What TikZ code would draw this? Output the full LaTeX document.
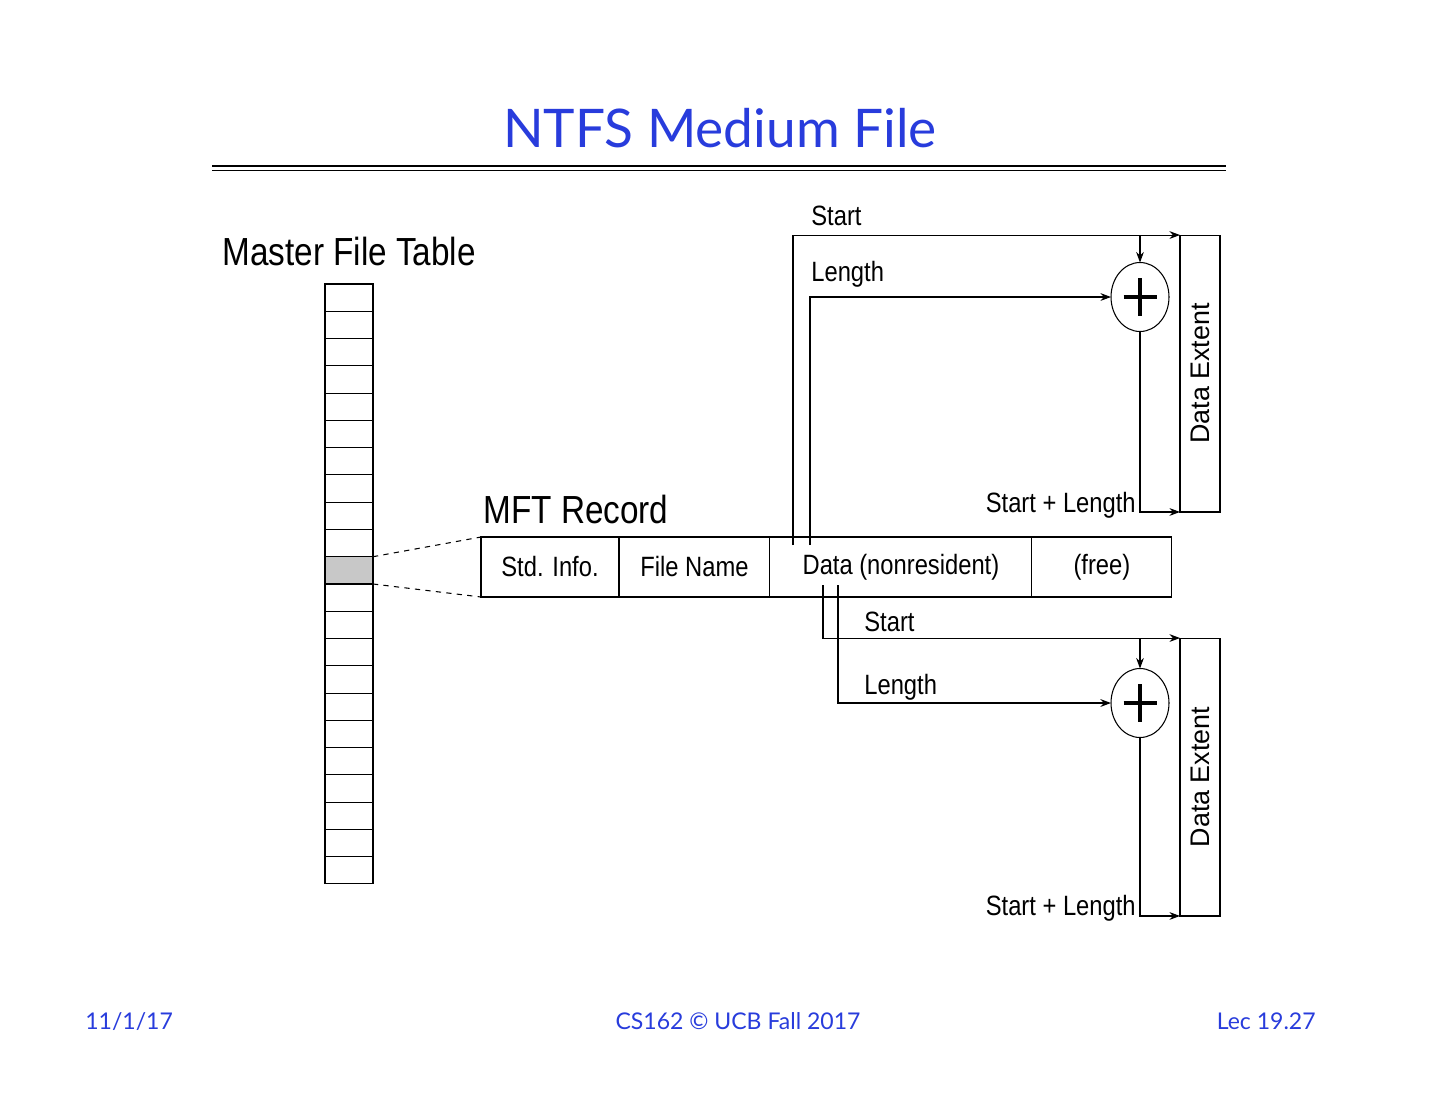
\documentclass[tikz,border=0pt]{standalone}
\usepackage{fontspec}
\usepackage{xcolor}
\usepackage{tikz}
\usetikzlibrary{arrows.meta, positioning, shapes.geometric, calc}
\setmainfont{Lato}
\newfontfamily\condfont{Liberation Sans}[FakeStretch=0.85]
\newfontfamily\extfont{Liberation Sans}
\definecolor{slideblue}{RGB}{40,60,220}
\definecolor{cellgray}{RGB}{200,200,200}

\tikzset{
  mftcell/.style={draw, line width=0.6pt, minimum width=0.96cm, minimum height=0.5455cm,
    inner sep=0pt, outer sep=0pt},
  reccell/.style={draw, line width=0.6pt, minimum height=1.2cm, inner sep=0pt, outer sep=0pt,
    font=\condfont\fontsize{15.9}{18}\selectfont},
  extbox/.style={draw, line width=0.6pt, minimum width=0.8cm, inner sep=0pt, outer sep=0pt},
  adder/.style={ellipse, draw, line width=0.6pt, minimum width=1.16cm, minimum height=1.38cm,
    inner sep=0pt, outer sep=0pt},
  conn/.style={line width=0.6pt, -{Stealth[length=6pt,width=4.4pt]}},
  lbl/.style={inner sep=0pt, font=\condfont\fontsize{15.9}{18}\selectfont},
  head/.style={anchor=base west, inner sep=0pt, font=\condfont\fontsize{22.3}{26}\selectfont},
  foot/.style={inner sep=0pt, text=slideblue, font=\fontsize{13.1}{16}\selectfont},
}

\begin{document}
\begin{tikzpicture}[x=0.02cm, y=-0.02cm]
  \useasboundingbox (0,0) rectangle (1440,1113);
  % title and rule
  \node[anchor=base, inner sep=0pt, text=slideblue, font=\fontsize{30.3}{36}\selectfont]
    (title) at (720,147) {NTFS Medium File};
  \draw[line width=1.2pt] (212,166) -- (1226,166);
  \draw[line width=0.6pt] (212,170.5) -- (1226,170.5);

  % master file table
  \node[head] (mfthead) at (222,265) {Master File Table};
  \foreach \i in {0,...,21}{
    \ifnum\i=10 \def\cellfill{cellgray}\else\def\cellfill{white}\fi
    \node[mftcell, fill=\cellfill] (m\i) at (349, {297.64+27.27*\i}) {};
  }

  % mft record
  \node[head] (rechead) at (483,523) {MFT Record};
  \node[reccell, minimum width=2.76cm] (rec1) at (550,567) {Std. Info.};
  \node[reccell, minimum width=3.02cm, right=0pt of rec1] (rec2) {File Name};
  \node[reccell, minimum width=5.24cm, right=0pt of rec2] (rec3) {Data (nonresident)};
  \node[reccell, minimum width=2.8cm, right=0pt of rec3] (rec4) {(free)};
  \draw[line width=1.2pt] (rec1.north west) -- (rec4.north east);
  \draw[dashed, line width=0.6pt] (m10.north east) -- (rec1.north west);
  \draw[dashed, line width=0.6pt] (m10.south east) -- (rec1.south west);

  % data extents and adders
  \node[extbox, minimum height=5.54cm] (ext1) at (1200,373.5) {};
  \node[extbox, minimum height=5.56cm] (ext2) at (1200,777) {};
  \foreach \e in {ext1,ext2}
    \node[rotate=90, inner sep=0pt, font=\extfont\fontsize{15.3}{18}\selectfont] at (\e) {Data Extent};
  \node[adder] (add1) at (1140,297) {};
  \node[adder] (add2) at (1140,703) {};
  \foreach \a in {add1,add2}{
    \draw[line width=1.8pt] ($(\a.center)+(-16.5,0)$) -- ($(\a.center)+(16.5,0)$);
    \draw[line width=1.8pt] ($(\a.center)+(0,-19)$) -- ($(\a.center)+(0,19)$);
  }

  % first extent
  \coordinate (s1) at (793,545);
  \coordinate (l1) at (810,545);
  \draw[conn] (s1) |- (ext1.north west);
  \draw[conn] (add1.north |- ext1.north) -- (add1.north);
  \draw[conn] (l1) |- (add1.west);
  \draw[conn] (add1.south) |- (ext1.south west);
  \node[lbl, anchor=base west] at (811,225) {Start};
  \node[lbl, anchor=base west] at (811,281) {Length};
  \node[lbl, anchor=base east] at (1136,512) {Start + Length};

  % second extent
  \coordinate (s2) at (823,585);
  \coordinate (l2) at (838,585);
  \draw[conn] (s2) |- (ext2.north west);
  \draw[conn] (add2.north |- ext2.north) -- (add2.north);
  \draw[conn, line width=1.2pt] (l2) |- (add2.west);
  \draw[conn] (add2.south) |- (ext2.south west);
  \node[lbl, anchor=base west] at (864,631) {Start};
  \node[lbl, anchor=base west] at (864,694) {Length};
  \node[lbl, anchor=base east] at (1136,915) {Start + Length};

  % footer
  \node[foot, anchor=base west] (fdate) at (85,1029) {11/1/17};
  \node[foot, anchor=base] (fcourse) at (738,1029) {CS162 © UCB Fall 2017};
  \node[foot, anchor=base east] (flec) at (1316,1029) {Lec 19.27};
\end{tikzpicture}
\end{document}
